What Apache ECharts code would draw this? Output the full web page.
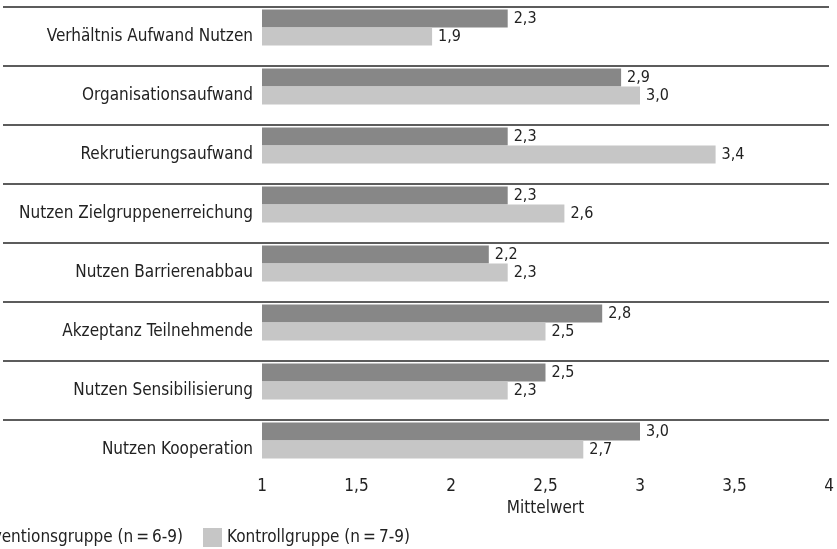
<!DOCTYPE html>
<html>
<head>
<meta charset="utf-8">
<script src="https://cdn.jsdelivr.net/npm/echarts@6/dist/echarts.min.js"></script>
<style>
html,body{margin:0;padding:0;background:#fff;}
#c{width:837px;height:549px;}
</style>
</head>
<body>
<div id="c"></div>
<script>
const categories = [
  'Verhältnis Aufwand Nutzen',
  'Organisationsaufwand',
  'Rekrutierungsaufwand',
  'Nutzen Zielgruppenerreichung',
  'Nutzen Barrierenabbau',
  'Akzeptanz Teilnehmende',
  'Nutzen Sensibilisierung',
  'Nutzen Kooperation'
];
const interventionValues = [2.3, 2.9, 2.3, 2.3, 2.2, 2.8, 2.5, 3.0];
const kontrollValues = [1.9, 3.0, 3.4, 2.6, 2.3, 2.5, 2.3, 2.7];
const seriesNames = ['Interventionsgruppe (n\u2009=\u20096-9)', 'Kontrollgruppe (n\u2009=\u20097-9)'];
const axisMin = 1, axisMax = 4, axisStep = 0.5;
const axisTitle = 'Mittelwert';

const FONT = "'Liberation Sans Narrow', 'DejaVu Sans Condensed', sans-serif";
const TXT = '#222222';
const comma = v => String(v).replace('.', ',');
const fixed1 = v => v.toFixed(1).replace('.', ',');

const chart = echarts.init(document.getElementById('c'));
const lbl = {
  show: true, position: 'right', distance: 6,
  color: TXT, fontFamily: FONT, fontSize: 16,
  formatter: p => fixed1(p.value)
};
chart.setOption({
  animation: false,
  textStyle: { fontFamily: FONT },
  grid: [
    { left: 262, right: 8, top: 7, bottom: 70, containLabel: false },
    { left: 3, right: 8, top: 7, height: 413, containLabel: false }
  ],
  xAxis: [
    {
      gridIndex: 0, type: 'value', min: axisMin, max: axisMax, interval: axisStep,
      axisLine: { show: false }, axisTick: { show: false }, splitLine: { show: false },
      axisLabel: { color: TXT, fontSize: 17, fontFamily: FONT, margin: -1, formatter: v => comma(v) },
      name: axisTitle, nameLocation: 'middle', nameGap: 21,
      nameTextStyle: { color: TXT, fontSize: 17, fontFamily: FONT }
    },
    { gridIndex: 1, type: 'value', min: 0, max: 1, show: false }
  ],
  yAxis: [
    {
      gridIndex: 0, type: 'category', data: categories, inverse: true,
      axisLine: { show: false }, axisTick: { show: false }, splitLine: { show: false },
      axisLabel: { color: TXT, fontSize: 17, fontFamily: FONT, margin: 9 }
    },
    {
      gridIndex: 1, type: 'value', min: 0, max: 7, interval: 1,
      axisLine: { show: false }, axisTick: { show: false }, axisLabel: { show: false },
      splitLine: { show: true, lineStyle: { color: '#262626', width: 1.5 } }
    }
  ],
  legend: [
    {
      data: [seriesNames[0]], right: 654, top: 528, padding: 0,
      itemWidth: 19, itemHeight: 19, icon: 'rect',
      textStyle: { color: TXT, fontSize: 17, fontFamily: FONT }
    },
    {
      data: [seriesNames[1]], left: 203, top: 528, padding: 0,
      itemWidth: 19, itemHeight: 19, icon: 'rect',
      textStyle: { color: TXT, fontSize: 17, fontFamily: FONT }
    }
  ],
  series: [
    {
      name: seriesNames[0], type: 'bar', data: interventionValues,
      xAxisIndex: 0, yAxisIndex: 0, barWidth: 18, barGap: '0%',
      itemStyle: { color: '#878787' }, label: lbl
    },
    {
      name: seriesNames[1], type: 'bar', data: kontrollValues,
      xAxisIndex: 0, yAxisIndex: 0, barWidth: 18, barGap: '0%',
      itemStyle: { color: '#c6c6c6' }, label: lbl
    },
    {
      name: 'spacer', type: 'bar', data: categories.map(() => null),
      xAxisIndex: 0, yAxisIndex: 0, barWidth: 18, barGap: '0%',
      itemStyle: { color: 'transparent' }, silent: true
    }
  ]
});
</script>
</body>
</html>
